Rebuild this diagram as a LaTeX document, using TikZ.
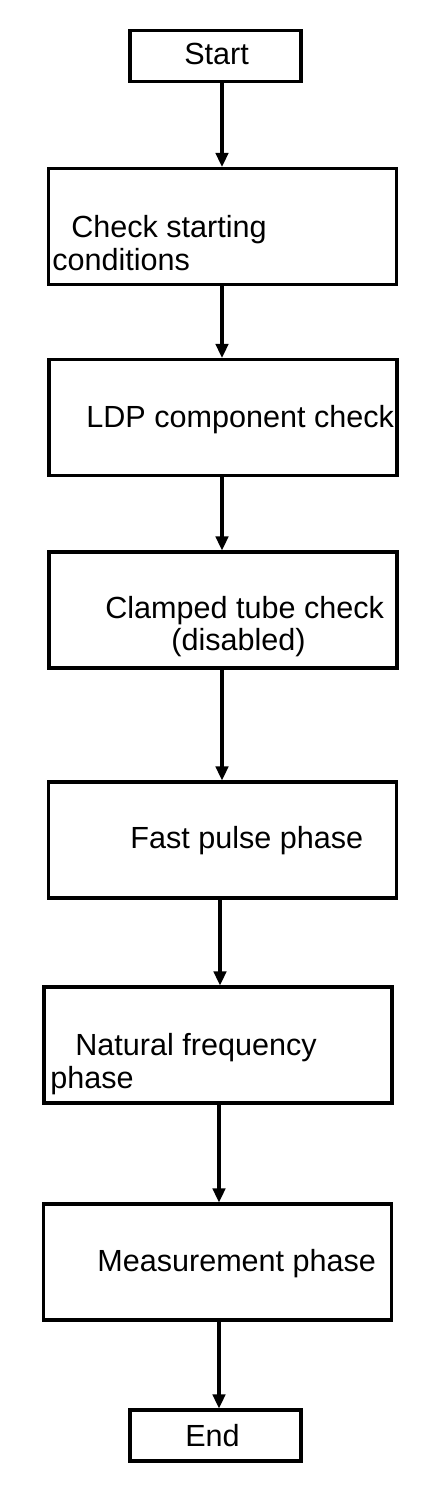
\documentclass[tikz,border=0pt]{standalone}
\usepackage{fontspec}
\setmainfont{Liberation Sans}
\usetikzlibrary{arrows.meta}

\begin{document}
\begin{tikzpicture}[x=0.02cm,y=-0.02cm,
  box/.style={draw,line width=1.8pt,minimum width=348*0.02cm,minimum height=116*0.02cm,inner sep=0pt},
  term/.style={draw,line width=1.8pt,minimum width=171*0.02cm,minimum height=51*0.02cm,inner sep=0pt},
  txt/.style={anchor=base west,inner sep=0pt,font=\fontsize{17.4}{20}\selectfont},
  arr/.style={-{Triangle[width=0.25cm,length=0.28cm]},line width=1.8pt}]
\useasboundingbox (0,0) rectangle (448,1498);
\node[term] (start) at (215.5,56)   {};
\node[box]  (chk)   at (222.5,226.5) {};
\node[box]  (ldp)   at (223,417.5)  {};
\node[box]  (clamp) at (223,610)    {};
\node[box]  (fast)  at (222.5,840)  {};
\node[box]  (nat)   at (218,1045)   {};
\node[box]  (meas)  at (217.5,1262) {};
\node[term] (stop)  at (215.5,1435.5) {};
% texts
\node[txt] (startt)  at (184,64)   {Start};
\node[txt] (chkt)    at (71,237)   {Check starting};
\node[txt] (chkt2)   at (52,270)   {conditions};
\node[txt] (ldpt)    at (86,427)   {LDP component check};
\node[txt] (clampt)  at (105,618)  {Clamped tube check};
\node[txt] (clampt2) at (171,650)  {(disabled)};
\node[txt] (fastt)   at (130,848)  {Fast pulse phase};
\node[txt] (natt)    at (75,1055)  {Natural frequency};
\node[txt] (natt2)   at (50,1088)  {phase};
\node[txt] (meast)   at (97,1271)  {Measurement phase};
\node[txt] (stopt)   at (185,1446) {End};
% connectors
\draw[arr] (start.south -| 222,0) -- (chk.north -| 222,0);
\draw[arr] (chk.south -| 222,0)   -- (ldp.north -| 222,0);
\draw[arr] (ldp.south -| 222,0)   -- (clamp.north -| 222,0);
\draw[arr] (clamp.south -| 222,0) -- (fast.north -| 222,0);
\draw[arr] (fast.south -| 220,0)  -- (nat.north -| 220,0);
\draw[arr] (nat.south -| 219,0)   -- (meas.north -| 219,0);
\draw[arr] (meas.south -| 219,0)  -- (stop.north -| 219,0);
\end{tikzpicture}
\end{document}
